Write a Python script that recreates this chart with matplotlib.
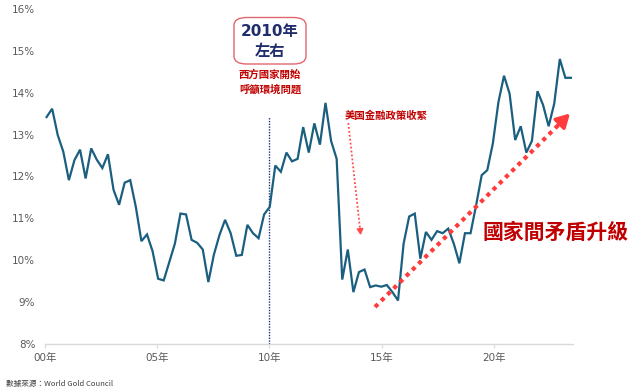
import matplotlib
matplotlib.use("Agg")
import matplotlib.pyplot as plt
from matplotlib.patches import FancyBboxPatch
from matplotlib.lines import Line2D
import numpy as np

# Quarterly share values (%) from 2000Q1 to 2023Q3
values = [13.42, 13.62, 12.99, 12.59, 11.91, 12.39, 12.64, 11.95, 12.67, 12.40,
          12.20, 12.53, 11.68, 11.32, 11.85, 11.91, 11.27, 10.45, 10.61, 10.21,
          9.55, 9.51, 9.95, 10.39, 11.11, 11.09, 10.48, 10.41, 10.25, 9.47,
          10.13, 10.60, 10.96, 10.64, 10.10, 10.12, 10.84, 10.64, 10.52, 11.09,
          11.27, 12.26, 12.11, 12.57, 12.36, 12.42, 13.18, 12.57, 13.27, 12.76,
          13.76, 12.85, 12.42, 9.53, 10.25, 9.23, 9.71, 9.77, 9.35, 9.39,
          9.36, 9.40, 9.23, 9.03, 10.39, 11.04, 11.11, 10.03, 10.67, 10.48,
          10.69, 10.64, 10.75, 10.39, 9.92, 10.64, 10.64, 11.31, 12.03, 12.15,
          12.79, 13.78, 14.41, 13.98, 12.87, 13.20, 12.57, 12.85, 14.04, 13.71,
          13.20, 13.74, 14.81, 14.36, 14.36]
start_year = 2000.07
times = [start_year + i * 0.2485 for i in range(len(values))]

xtick_pos = [2000, 2005, 2010, 2015, 2020]
xtick_labels = ["00年", "05年", "10年", "15年", "20年"]
ytick_pos = [8, 9, 10, 11, 12, 13, 14, 15, 16]
ytick_labels = [f"{v}%" for v in ytick_pos]

W, H = 637, 390
fig = plt.figure(figsize=(W / 100, H / 100), dpi=100)
ax = fig.add_axes([45 / W, 1 - 343.5 / H, (573 - 45) / W, (343.5 - 9.3) / H])

FAM = ["DejaVu Sans", "Noto Sans CJK TC"]
CJK = ["Noto Sans CJK TC", "DejaVu Sans"]

ax.plot(times, values, color="#1b5f80", lw=1.6, solid_joinstyle="miter", zorder=3)

ax.set_xlim(2000, 2023.52)
ax.set_ylim(8, 16)
ax.set_xticks(xtick_pos)
ax.set_xticklabels(xtick_labels, family=FAM, fontsize=7.5, color="#595959")
ax.set_yticks(ytick_pos)
ax.set_yticklabels(ytick_labels, family=FAM, fontsize=7.5, color="#595959")
for s in ["top", "right", "left"]:
    ax.spines[s].set_visible(False)
ax.spines["bottom"].set_color("#d9d9d9")
ax.spines["bottom"].set_linewidth(1)
ax.tick_params(axis="y", length=0, pad=7)
ax.tick_params(axis="x", length=3, color="#d9d9d9", pad=4)

def px(x, y):
    return (x / W, 1 - y / H)

# vertical dotted line at 2010
ax.plot([2010, 2010], [8, 16 - (116.5 - 9.3) / 41.7], color="#1f2f7a",
        lw=1.0, ls=(0, (1, 1)), zorder=2)

# rounded box
box = FancyBboxPatch(px(234, 64), (306 - 234) / W, (64 - 17.5) / H,
                     boxstyle="round,pad=0,rounding_size=0.02",
                     transform=fig.transFigure, facecolor="white",
                     edgecolor="#e0666e", lw=1.0, zorder=5)
fig.patches.append(box)
fig.text(*px(270, 31.5), "2010年", ha="center", va="center", fontsize=11,
         fontweight="bold", color="#1f2d6b", family=FAM, zorder=6)
fig.text(*px(270, 51), "左右", ha="center", va="center", fontsize=11,
         fontweight="bold", color="#1f2d6b", family=CJK, zorder=6)

fig.text(*px(270, 75), "西方國家開始", ha="center", va="center", fontsize=7.5,
         fontweight="bold", color="#c00000", family=CJK)
fig.text(*px(270, 89), "呼籲環境問題", ha="center", va="center", fontsize=7.5,
         fontweight="bold", color="#c00000", family=CJK)

fig.text(*px(345, 116), "美国金融政策收緊", ha="left", va="center", fontsize=7.5,
         fontweight="bold", color="#c00000", family=CJK)


def dotted_arrow(p0, p1, color, lw, dash, head_len_px, hl, hw, head_lw):
    x0, y0 = p0
    x1, y1 = p1
    d = np.hypot(x1 - x0, y1 - y0)
    ux, uy = (x1 - x0) / d, (y1 - y0) / d
    bx, by = x1 - ux * head_len_px, y1 - uy * head_len_px
    a, b = px(x0, y0), px(bx, by)
    fig.add_artist(Line2D([a[0], b[0]], [a[1], b[1]], transform=fig.transFigure,
                          color=color, lw=lw, ls=dash, dash_capstyle="butt"))
    ax.annotate("", xy=px(x1, y1), xycoords="figure fraction",
                xytext=px(bx, by), textcoords="figure fraction",
                arrowprops=dict(arrowstyle=f"-|>,head_length={hl},head_width={hw}",
                                color=color, lw=head_lw, shrinkA=0, shrinkB=0))


# small dotted arrow
dotted_arrow((348.3, 123), (360.7, 235), "#ff4b4b", 1.3, (0, (1, 1.2)),
             7, 0.35, 0.2, 1.0)
# big dotted arrow
dotted_arrow((375, 307), (570, 113.5), "#ff3b3b", 3.0, (0, (1, 1.1)),
             16, 0.8, 0.45, 2.5)

fig.text(*px(556, 232.5), "國家間矛盾升級", ha="center", va="center", fontsize=15,
         fontweight="bold", color="#c00000", family=CJK)

fig.text(*px(6, 384), "數據來源：World Gold Council", ha="left", va="center",
         fontsize=5.5, color="#404040", family=CJK)

fig.savefig("out.png", dpi=100)
